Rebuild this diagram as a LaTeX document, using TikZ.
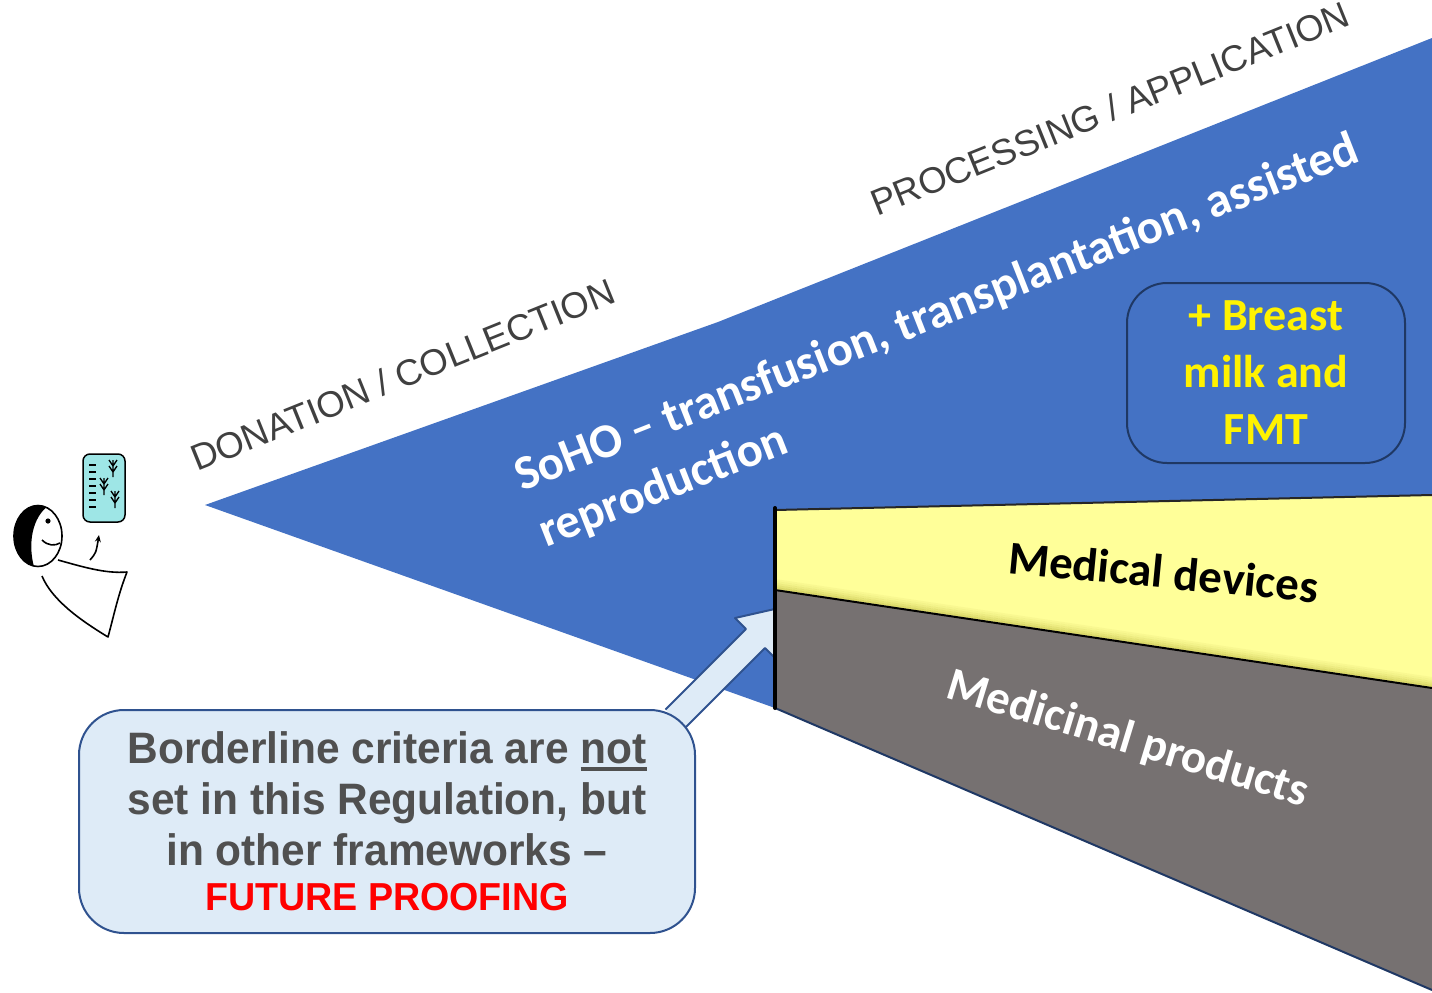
\documentclass[tikz,border=0pt]{standalone}
\usepackage{fontspec}
\usetikzlibrary{arrows.meta}

\newfontfamily\calibri{Carlito}
\newfontfamily\arial{Liberation Sans}
\newfontfamily\arialn[FakeStretch=0.965]{Liberation Sans}

\definecolor{sohoblue}{HTML}{4472C4}
\definecolor{devyellow}{HTML}{FFFF99}
\definecolor{medgray}{HTML}{767171}
\definecolor{labelgray}{HTML}{404040}
\definecolor{notegray}{HTML}{505050}
\definecolor{notefill}{HTML}{DEEBF7}
\definecolor{noteline}{HTML}{2F528F}
\definecolor{navy}{HTML}{1F3864}
\definecolor{tubecyan}{HTML}{9EE6E6}

\newcommand\fsz[2]{\fontsize{#1}{#2}\selectfont}
\newcommand\thickul[1]{\setbox0\hbox{#1}\rlap{\rule[-7pt]{\wd0}{3.5pt}}\box0}

\tikzset{
  phase/.style={text=labelgray, font=\arial\fsz{36.5}{43}, rotate=22, anchor=base west, inner sep=0},
  sohotext/.style={text=white, font=\calibri\bfseries\fsz{48.5}{58}, rotate=21.5, anchor=base west, inner sep=0},
  sector/.style={font=\calibri\bfseries\fsz{47}{56}, anchor=base, inner sep=0},
  edge/.style={line width=2pt, line join=round},
}

\begin{document}
\begin{tikzpicture}[x=1pt,y=-1pt]
\useasboundingbox (0,0) rectangle (1432,993);

% SoHO wedge
\fill[sohoblue] (205,505) -- (718,322) -- (1432,38) -- (1432,520) -- (775,520) -- (775,708) -- cycle;

% callout arrow, tip runs under the sectors
\draw[edge, draw=noteline, fill=notefill]
  (665.5,709.5) -- (746,629) -- (735,618) -- (788,606) -- (776,659) -- (765,648) -- (684.5,728.5);

% medical devices
\fill[devyellow] (775,510) -- (1432,495) -- (1432,688) -- (775,590) -- cycle;
\foreach \d/\o in {2/0.30,4/0.22,6/0.15,8/0.09,10/0.05}
  \draw[line width=2pt, draw=olive, opacity=\o] (775,590-\d) -- (1432,688-\d);
\draw[edge, draw=black!85] (775,510) -- (1432,495);

% medicinal products
\fill[medgray] (775,590) -- (1432,688) -- (1432,990) -- (775,708) -- cycle;
\draw[edge, draw=black] (775,590) -- (1432,688);
\draw[edge, draw=navy] (775,708) -- (1432,990);
\draw[line width=4pt, line cap=round] (775,508) -- (775,708);

% phase labels
\node[phase] (donation) at (197,472) {DONATION / COLLECTION};
\node[phase] (processing) at (877,217) {PROCESSING / APPLICATION};

% scope texts
\node[sohotext] (soho) at (522,492) {SoHO – transfusion, transplantation, assisted};
\node[sohotext] (repro) at (546,548) {reproduction};

\node[draw=navy, line width=2pt, fill=sohoblue, rounded corners=40pt, minimum width=278pt,
      minimum height=180pt, text=yellow, align=center, font=\calibri\bfseries\fsz{46}{57}]
  (breast) at (1266,373) {+ Breast\\ milk and\\ FMT};

\node[sector, text=black, rotate=-5.5] (devices) at (1162,588) {Medical devices};
\node[sector, text=white, rotate=-17] (medicinal) at (1124,752) {Medicinal products};

% borderline note
\node[draw=noteline, line width=2pt, fill=notefill, rounded corners=45pt, minimum width=616pt,
      minimum height=223pt, text=notegray, align=center, font=\arialn\bfseries\fsz{44}{51}]
  (note) at (387,821.5)
  {Borderline criteria are \thickul{not}\\ set in this Regulation, but\\ in other frameworks –\\[-6pt]
   {\fsz{39}{45}\color{red} FUTURE PROOFING}};

% donor
\draw[line width=1.6pt, fill=white] (38,536) ellipse (24 and 30.5);
\fill (46.2,507.3) arc (290:100:24 and 30.5) .. controls (29,548) and (30,522) .. cycle;
\fill (48,521) circle (2.6);
\draw[line width=1.6pt] (42,540) .. controls (48,546) and (55,546) .. (60,543);
\draw[line width=1.6pt, line join=round] (58,560) .. controls (80,566) and (105,574) .. (127,572)
  .. controls (118,595) and (114,615) .. (108,637)
  .. controls (80,620) and (52,600) .. (42,576);
\draw[line width=1.6pt, -{Stealth[length=7pt,width=6pt]}] (90,560) .. controls (96,553) .. (99,535);

% sample tube
\draw[line width=1.5pt, fill=tubecyan, rounded corners=7pt] (83,454) rectangle (125,522);
\foreach \y in {465,472,479,486,493,500,507}
  \draw[line width=1.6pt] (89,\y) -- (96,\y);
\foreach \x/\y in {113/468,104/486,115/499}
  \draw[line width=1.3pt] (\x,\y-8) -- (\x,\y+9)
    (\x-4,\y-8) -- (\x,\y-2) -- (\x+4,\y-8)
    (\x-4,\y-2) -- (\x,\y+4) -- (\x+4,\y-2);

\end{tikzpicture}
\end{document}
